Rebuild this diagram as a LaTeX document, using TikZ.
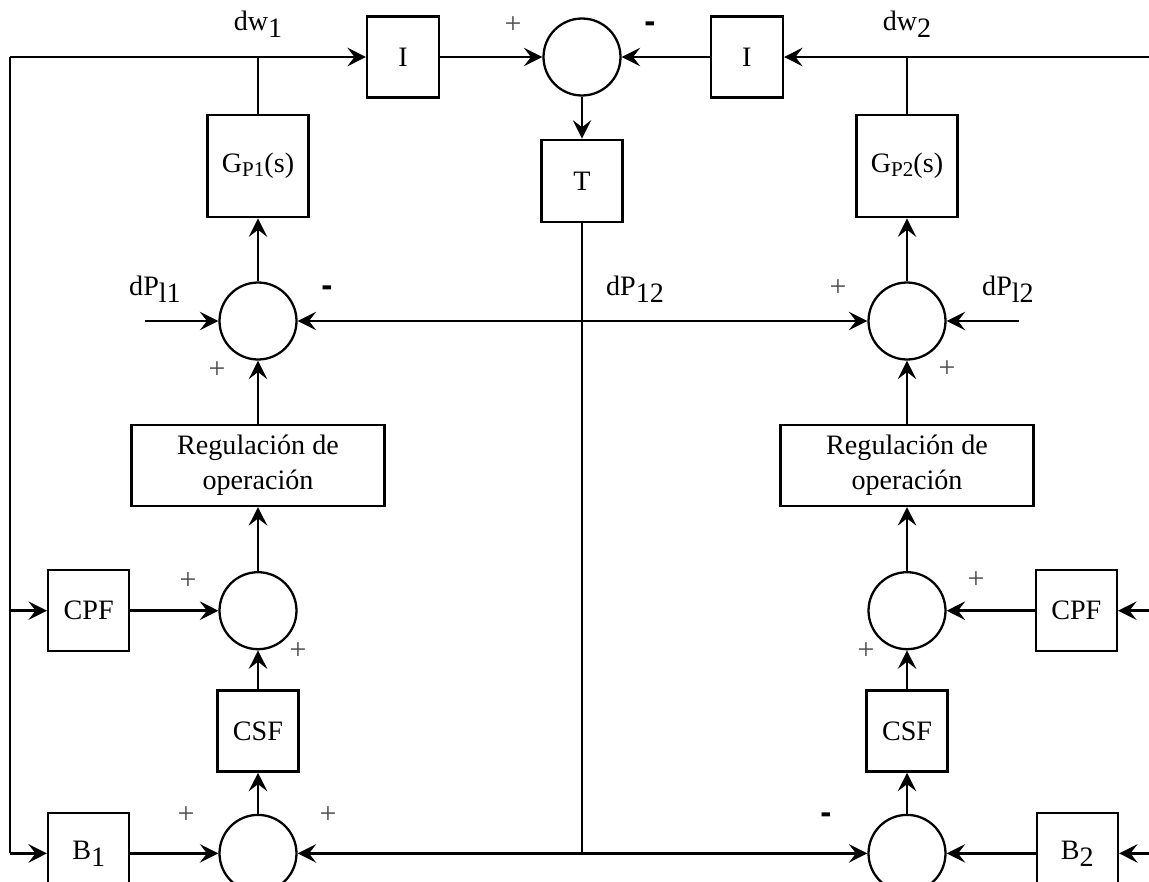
\documentclass[tikz,border=0pt]{standalone}
\usepackage{fontspec}
\setmainfont{Liberation Serif}
\setsansfont{Liberation Sans}
\usetikzlibrary{arrows.meta,positioning}
\tikzstyle{block}=[rectangle,draw,line width=1.4pt,minimum width=1.62cm,minimum height=1.62cm,inner sep=2pt]
\tikzstyle{sum}=[circle,draw,line width=1.3pt,minimum size=1.54cm,inner sep=0pt]
\tikzstyle{sig}=[inner sep=0pt]
\tikzstyle{plussign}=[inner sep=0pt,text=black!70,font=\fontsize{17}{17}\selectfont]
\tikzstyle{minussign}=[inner sep=0pt,font=\fontsize{19}{19}\sffamily\bfseries\selectfont]
\newcommand{\lo}[1]{\raisebox{-0.55ex}{#1}}
\newcommand{\los}[1]{\raisebox{-0.3ex}{\fontsize{12}{12}\selectfont #1}}

\begin{document}
\begin{tikzpicture}[x=0.02cm,y=-0.02cm,>={Stealth[length=10.5pt,width=10.5pt,inset=4pt]},
    line width=1.5pt,font=\fontsize{16}{19.5}\selectfont]
            \useasboundingbox (0,0) rectangle (1149,882);
            \clip (0,0) rectangle (1149,882);

            % TIE LINE PART

            \node[sum] (s0) at (582,57) {};
            \node[block,minimum width=1.44cm,left=2.04cm of s0] (i1) {I};
            \node[block,minimum width=1.44cm,right=1.76cm of s0] (i2) {I};
            \node[block,minimum height=1.64cm,below=0.84cm of s0] (t) {T};

            % AREA 1 PART

            \node[sum] (s1) at (258,321) {};
            \node[block,minimum width=2.02cm,minimum height=2.04cm,above=1.26cm of s1] (gp1) {G\los{P1}(s)};
            \node[block,minimum width=5.06cm,align=center,below=1.26cm of s1] (reg1) {Regulación de\\operación};
            \node[sum,below=1.28cm of reg1] (s3) {};
            \node[block,below=0.78cm of s3] (csf1) {CSF};
            \node[sum,below=0.82cm of csf1] (s5) {};
            \node[block,left=1.76cm of s3] (cpf1) {CPF};
            \node[block,left=1.76cm of s5] (b1) {B\lo{1}};

            % AREA 2 PART

            \node[sum] (s2) at (907,321) {};
            \node[block,minimum width=2.02cm,minimum height=2.04cm,above=1.26cm of s2] (gp2) {G\los{P2}(s)};
            \node[block,minimum width=5.06cm,align=center,below=1.26cm of s2] (reg2) {Regulación de\\operación};
            \node[sum,below=1.28cm of reg2] (s4) {};
            \node[block,below=0.78cm of s4] (csf2) {CSF};
            \node[sum,below=0.82cm of csf2] (s6) {};
            \node[block,right=1.76cm of s4] (cpf2) {CPF};
            \node[block,right=1.78cm of s6] (b2) {B\lo{2}};

            % free ends and junctions

            \coordinate (c0) at (10,57);
            \coordinate (e0) at (1149,57);
            \coordinate (j1) at (gp1 |- c0);
            \coordinate (j2) at (gp2 |- c0);
            \coordinate (k1) at (c0 |- cpf1);
            \coordinate (k2) at (c0 |- b1);
            \coordinate (e1) at (e0 |- cpf2);
            \coordinate (e2) at (e0 |- b2);
            \coordinate (jb) at (t |- s5);
            \coordinate (d1) at ([xshift=-1.47cm]s1.west);
            \coordinate (d2) at ([xshift=1.44cm]s2.east);

            \path[->] (c0) edge (i1);
            \path (c0) edge (k2);
            \path (j1) edge (gp1);
            \path[->] (e0) edge (i2);
            \path (j2) edge (gp2);
            \path[->] (i1) edge (s0);
            \path[->] (i2) edge (s0);
            \path[->] (s0) edge (t);
            \path (t) edge (jb);
            \path[->] (jb) edge (s5);
            \path[->] (jb) edge (s6);
            \path[<->] (s1) edge (s2);

            \path[->] (s1) edge (gp1);
            \path[->] (d1) edge (s1);
            \path[->] (reg1) edge (s1);
            \path[->] (s3) edge (reg1);
            \path[->] (csf1) edge (s3);
            \path[->] (s5) edge (csf1);
            \path[->] (k1) edge (cpf1);
            \path[->] (cpf1) edge (s3);
            \path[->] (k2) edge (b1);
            \path[->] (b1) edge (s5);

            \path[->] (s2) edge (gp2);
            \path[->] (d2) edge (s2);
            \path[->] (reg2) edge (s2);
            \path[->] (s4) edge (reg2);
            \path[->] (csf2) edge (s4);
            \path[->] (s6) edge (csf2);
            \path[->] (e1) edge (cpf2);
            \path[->] (cpf2) edge (s4);
            \path[->] (e2) edge (b2);
            \path[->] (b2) edge (s6);

            % signal names

            \node[sig] (lw1) at (258,24) {dw\lo{1}};
            \node[sig] (lw2) at (907,24) {dw\lo{2}};
            \node[sig] (lp1) at (155,289) {dP\lo{l1}};
            \node[sig] (lp12) at (635,289) {dP\lo{12}};
            \node[sig] (lp2) at (1008,289) {dP\lo{l2}};

            % signs

            \node[plussign] (g1) at (513,25) {+};
            \node[minussign] (g2) at (650,27) {-};
            \node[minussign] (g3) at (327,291) {-};
            \node[plussign] (g4) at (217,370) {+};
            \node[plussign] (g5) at (838,288) {+};
            \node[plussign] (g6) at (947,369) {+};
            \node[plussign] (g7) at (188,581) {+};
            \node[plussign] (g8) at (298,651) {+};
            \node[plussign] (g9) at (976,580) {+};
            \node[plussign] (g10) at (866,651) {+};
            \node[plussign] (g11) at (186,815) {+};
            \node[plussign] (g12) at (328,815) {+};
            \node[minussign] (g13) at (826,818) {-};

        \end{tikzpicture}
\end{document}
